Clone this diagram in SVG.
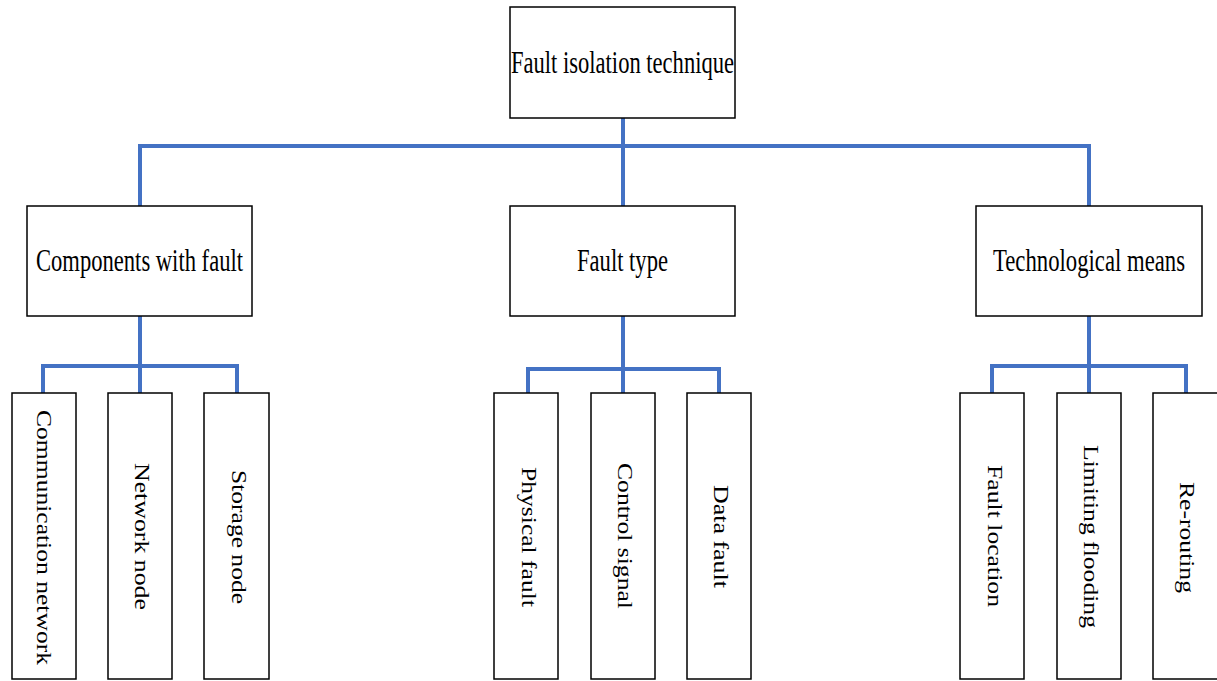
<svg xmlns="http://www.w3.org/2000/svg" width="1217" height="681" viewBox="0 0 1217 681">
<style>
.box{fill:#fff;stroke:#000;stroke-width:1.5}
.h{font-family:"Liberation Serif","Times New Roman",serif;font-size:31px;fill:#000;text-anchor:middle}
.v{font-family:"Liberation Serif","Times New Roman",serif;font-size:22px;fill:#000;text-anchor:middle}
.c{fill:none;stroke:#4472C4;stroke-width:4;stroke-linecap:butt;stroke-linejoin:miter}
</style>
<rect width="1217" height="681" fill="#fff"/>
<g id="connectors">
<path class="c" d="M623 118V206M140 206V146H1089V206"/>
<path class="c" d="M140 316V393M43 393V366H237V393"/>
<path class="c" d="M623 316V393M528 393V369H719V393"/>
<path class="c" d="M1089 316V393M992 393V366H1186V393"/>
</g>
<g id="root"><rect class="box" x="510" y="7" width="225" height="111"/><text class="h" x="622.5" y="72.5" textLength="223" lengthAdjust="spacingAndGlyphs">Fault isolation technique</text></g>
<g id="components"><rect class="box" x="27" y="206" width="225" height="110"/><text class="h" x="139.5" y="270.5" textLength="207" lengthAdjust="spacingAndGlyphs">Components with fault</text></g>
<g id="faulttype"><rect class="box" x="510" y="206" width="225" height="110"/><text class="h" x="622.5" y="270.5" textLength="91" lengthAdjust="spacingAndGlyphs">Fault type</text></g>
<g id="techmeans"><rect class="box" x="976" y="206" width="226" height="110"/><text class="h" x="1089" y="270.5" textLength="192" lengthAdjust="spacingAndGlyphs">Technological means</text></g>
<g id="comm"><rect class="box" x="12" y="393" width="64" height="286"/><text class="v" transform="translate(37,537.5) rotate(90)" textLength="255" lengthAdjust="spacingAndGlyphs">Communication network</text></g>
<g id="netnode"><rect class="box" x="108" y="393" width="64" height="286"/><text class="v" transform="translate(135,536.5) rotate(90)" textLength="147" lengthAdjust="spacingAndGlyphs">Network node</text></g>
<g id="storage"><rect class="box" x="204" y="393" width="65" height="286"/><text class="v" transform="translate(232,537) rotate(90)" textLength="134" lengthAdjust="spacingAndGlyphs">Storage node</text></g>
<g id="physical"><rect class="box" x="494" y="393" width="64" height="286"/><text class="v" transform="translate(522,537) rotate(90)" textLength="140" lengthAdjust="spacingAndGlyphs">Physical fault</text></g>
<g id="control"><rect class="box" x="591" y="393" width="64" height="286"/><text class="v" transform="translate(617.5,536) rotate(90)" textLength="146" lengthAdjust="spacingAndGlyphs">Control signal</text></g>
<g id="datafault"><rect class="box" x="687" y="393" width="64" height="286"/><text class="v" transform="translate(713.5,536.5) rotate(90)" textLength="103" lengthAdjust="spacingAndGlyphs">Data fault</text></g>
<g id="faultloc"><rect class="box" x="960" y="393" width="64" height="286"/><text class="v" transform="translate(988,536) rotate(90)" textLength="142" lengthAdjust="spacingAndGlyphs">Fault location</text></g>
<g id="limiting"><rect class="box" x="1057" y="393" width="64" height="286"/><text class="v" transform="translate(1084,536.5) rotate(90)" textLength="183" lengthAdjust="spacingAndGlyphs">Limiting flooding</text></g>
<g id="rerouting"><rect class="box" x="1153" y="393" width="66" height="286"/><text class="v" transform="translate(1180,537.5) rotate(90)" textLength="111" lengthAdjust="spacingAndGlyphs">Re-routing</text></g>
</svg>
